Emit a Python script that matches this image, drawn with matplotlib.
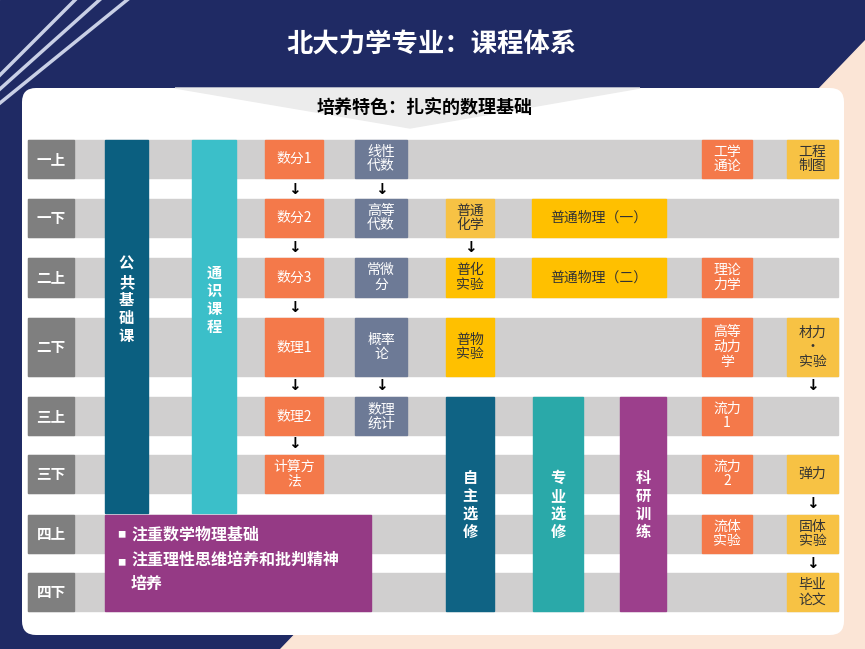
import matplotlib.pyplot as plt
from matplotlib.patches import Rectangle, Polygon, FancyBboxPatch

plt.rcParams['font.family'] = ['Noto Sans CJK SC', 'DejaVu Sans']

title = '北大力学专业：课程体系'
subtitle = '培养特色：扎实的数理基础'
terms = ['一上', '一下', '二上', '二下', '三上', '三下', '四上', '四下']
row_tops = [140, 199, 258, 318, 397, 455, 515, 573]
row_bots = [178, 237, 297, 376, 435, 493, 553, 611]

ORANGE = '#f4794a'
SLATE = '#6d7a96'
YELLOW = '#f7c244'
GOLD = '#ffc000'
WHITE = 'white'
DARK = '#333333'

# (row, x0, x1, text, color, text color)
cells = [
    (0, 265, 323, '数分1', ORANGE, WHITE), (0, 355, 407, '线性\n代数', SLATE, WHITE),
    (0, 702, 752, '工学\n通论', ORANGE, WHITE), (0, 787, 838, '工程\n制图', YELLOW, DARK),
    (1, 265, 323, '数分2', ORANGE, WHITE), (1, 355, 407, '高等\n代数', SLATE, WHITE),
    (1, 446, 494, '普通\n化学', YELLOW, DARK), (1, 532, 666, '普通物理（一）', GOLD, DARK),
    (2, 265, 323, '数分3', ORANGE, WHITE), (2, 355, 407, '常微\n分', SLATE, WHITE),
    (2, 446, 494, '普化\n实验', GOLD, DARK), (2, 532, 666, '普通物理（二）', GOLD, DARK),
    (2, 702, 752, '理论\n力学', ORANGE, WHITE),
    (3, 265, 323, '数理1', ORANGE, WHITE), (3, 355, 407, '概率\n论', SLATE, WHITE),
    (3, 446, 494, '普物\n实验', GOLD, DARK), (3, 702, 752, '高等\n动力\n学', ORANGE, WHITE),
    (3, 787, 838, '材力\n·\n实验', YELLOW, DARK),
    (4, 265, 323, '数理2', ORANGE, WHITE), (4, 355, 407, '数理\n统计', SLATE, WHITE),
    (4, 702, 752, '流力\n1', ORANGE, WHITE),
    (5, 265, 323, '计算方\n法', ORANGE, WHITE), (5, 702, 752, '流力\n2', ORANGE, WHITE),
    (5, 787, 838, '弹力', YELLOW, DARK),
    (6, 702, 752, '流体\n实验', ORANGE, WHITE), (6, 787, 838, '固体\n实验', YELLOW, DARK),
    (7, 787, 838, '毕业\n论文', YELLOW, DARK),
]
# arrows: (x, y)
arrows = [(294, 189), (381, 189), (294, 248), (470, 248), (294, 308),
          (294, 386), (381, 386), (812, 386), (294, 444), (812, 504), (812, 563)]
# tall columns: (x0, x1, y0, y1, text, color, text y)
columns = [
    (105, 148, 140, 513, '公\n共\n基\n础\n课', '#0b5f80', 300),
    (192, 236, 140, 513, '通\n识\n课\n程', '#3bbfc9', 300),
    (446, 494, 397, 611, '自\n主\n选\n修', '#0f6384', 505),
    (533, 583, 397, 611, '专\n业\n选\n修', '#2aa9a9', 505),
    (620, 666, 397, 611, '科\n研\n训\n练', '#9c3f8c', 505),
]
bullets = ['注重数学物理基础', '注重理性思维培养和批判精神\n培养']

fig = plt.figure(figsize=(8.65, 6.49), dpi=100)
ax = fig.add_axes([0, 0, 1, 1])
ax.set_xlim(0, 865)
ax.set_ylim(649, 0)
ax.axis('off')

# background
ax.add_patch(Rectangle((0, 0), 865, 649, color='#1f2a64'))
ax.add_patch(Polygon([(865, 40), (865, 649), (280, 649)], color='#fbe5d6'))
for d in [0, 14, 28]:
    ax.plot([0, 120 + d], [75 + d, -45 + d], color='#c9d0e6', lw=2.5)
ax.add_patch(FancyBboxPatch((22, 88), 822, 547, boxstyle='round,pad=0,rounding_size=14',
                            fc='white', ec='none'))
ax.add_patch(Polygon([(175, 88), (640, 88), (410, 128)], color='#ececec'))
ax.text(432, 45, title, color='white', fontsize=19, fontweight='bold', ha='center', va='center')
ax.text(425, 108, subtitle, color='black', fontsize=13, fontweight='bold', ha='center', va='center')

for t, y0, y1 in zip(terms, row_tops, row_bots):
    ax.add_patch(Rectangle((28, y0), 810, y1 - y0, color='#d0cfcf'))
    ax.add_patch(Rectangle((28, y0), 46, y1 - y0, color='#7f7f7f'))
    ax.text(51, (y0 + y1) / 2, t, color='white', fontsize=10.5, fontweight='bold',
            ha='center', va='center')

for x0, x1, y0, y1, t, c, ty in columns:
    ax.add_patch(Rectangle((x0, y0), x1 - x0, y1 - y0, color=c))
    ax.text((x0 + x1) / 2, ty, t, color='white', fontsize=11, fontweight='bold',
            ha='center', va='center', linespacing=1.15)

for r, x0, x1, t, c, tc in cells:
    y0, y1 = row_tops[r], row_bots[r]
    ax.add_patch(Rectangle((x0, y0), x1 - x0, y1 - y0, color=c))
    ax.text((x0 + x1) / 2, (y0 + y1) / 2, t, color=tc, fontsize=10,
            ha='center', va='center', linespacing=1.05)

for x, y in arrows:
    ax.text(x, y, '↓', fontsize=11, ha='center', va='center', color='black',
            family='DejaVu Sans', fontweight='bold')

ax.add_patch(Rectangle((105, 515), 266, 96, color='#953a85'))
ax.text(117, 535, '■', color='white', fontsize=6, va='center')
ax.text(131, 535, bullets[0], color='white', fontsize=11.5, fontweight='bold', va='center')
ax.text(117, 563, '■', color='white', fontsize=6, va='center')
ax.text(131, 563, bullets[1], color='white', fontsize=11.5, fontweight='bold', va='top',
        linespacing=1.6)
ax.texts[-1].set_y(552)

fig.savefig('out.png', dpi=100)
